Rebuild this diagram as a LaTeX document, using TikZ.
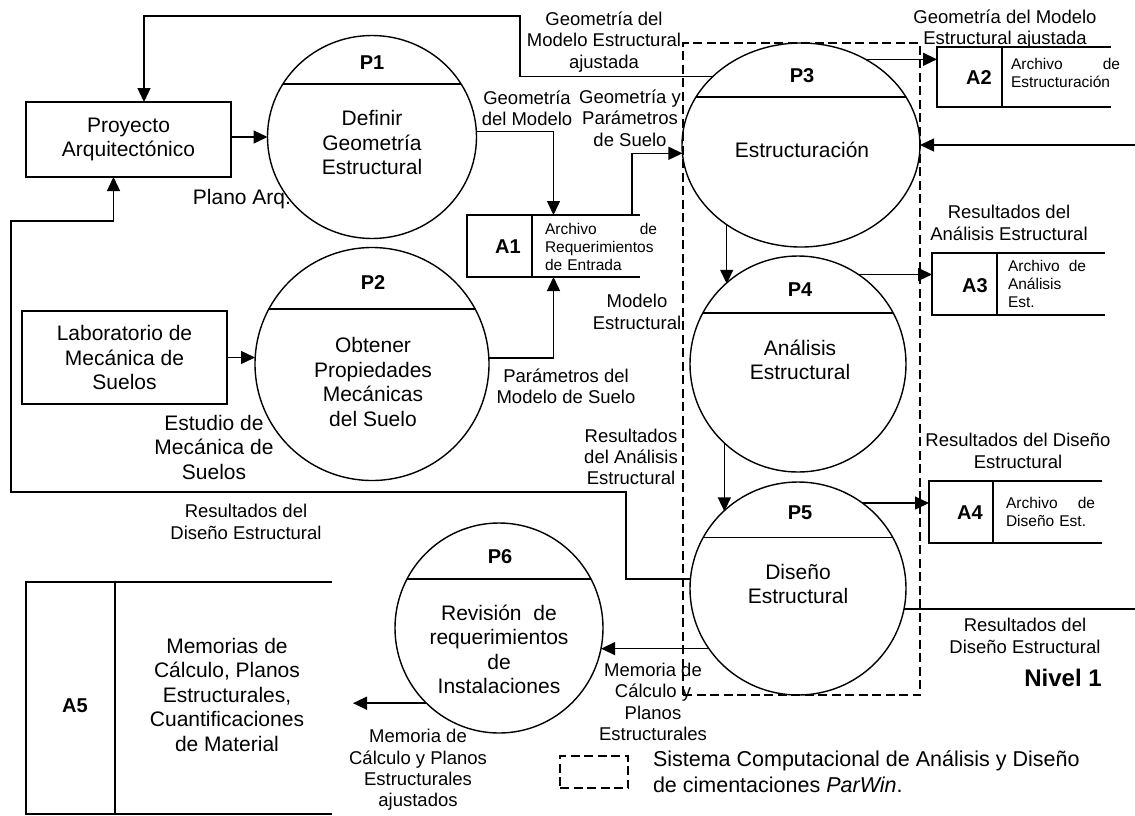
\documentclass[tikz,border=0pt]{standalone}
\usepackage{fontspec}
\setmainfont{Liberation Sans}
\usetikzlibrary{shapes.geometric,arrows.meta}
\begin{document}
\begin{tikzpicture}[x=1pt,y=-1pt,line width=1.4pt,
  every node/.style={inner sep=0pt,outer sep=0pt},
  proc/.style={ellipse,draw,path picture={\draw ([yshift=#1]path picture bounding box.west) -- ([yshift=#1]path picture bounding box.east);}},
  ptxt/.style={align=center,font=\fontsize{21}{24.5}\selectfont},
  ttl/.style={font=\bfseries\fontsize{20}{24}\selectfont},
  lbl/.style={align=center,font=\fontsize{18.5}{21.3}\selectfont},
  stxt/.style={align=left,anchor=west,font=\fontsize{15.5}{18}\selectfont},
  ent/.style={draw,align=center,font=\fontsize{21}{24.5}\selectfont},
  arr/.style={-{Triangle[length=14pt,width=13pt]}},
  sysbox/.style={dash pattern=on 9pt off 4.5pt}]
\useasboundingbox (0,0) rectangle (1135,815);

% system boundary
\node[draw,sysbox,minimum width=237pt,minimum height=652pt] (sys) at (801.5,369) {};

% external entities
\node[ent,minimum width=205pt,minimum height=75pt] (Proy) at (128.5,139.5) {Proyecto\\Arquitectónico};
\node[ent,minimum width=205pt,minimum height=93pt] (Lab) at (124.5,357.5) {Laboratorio de\\Mecánica de\\Suelos};

% processes
\node[proc=53pt,minimum width=209pt,minimum height=203pt] (P1) at (372,137) {};
\node[proc=55pt,minimum width=234pt,minimum height=233pt] (P2) at (372,364) {};
\node[proc=48pt,minimum width=238pt,minimum height=204pt] (P3) at (801,145) {};
\node[proc=51pt,minimum width=216pt,minimum height=216pt] (P4) at (798,364) {};
\node[proc=51pt,minimum width=216pt,minimum height=213pt] (P5) at (798,588.5) {};
\node[proc=49pt,minimum width=208pt,minimum height=210pt] (P6) at (499,628) {};

\node[ttl] (t1) at (372,63) {P1};
\node[ttl] (t2) at (373,283) {P2};
\node[ttl] (t3) at (802,76) {P3};
\node[ttl] (t4) at (800,290) {P4};
\node[ttl] (t5) at (800,513) {P5};
\node[ttl] (t6) at (500,557) {P6};

\node[ptxt] (x1) at (372,142.5) {Definir\\Geometría\\Estructural};
\node[ptxt] (x2) at (373,382) {Obtener\\Propiedades\\Mecánicas\\del Suelo};
\node[ptxt] (x3) at (802,150) {Estructuración};
\node[ptxt] (x4) at (800,360) {Análisis\\Estructural};
\node[ptxt] (x5) at (798,584) {Diseño\\Estructural};
\node[ptxt] (x6) at (499,649.5) {Revisión\hspace{6pt} de\\requerimientos\\de\\Instalaciones};

% data stores
\node[minimum width=173pt,minimum height=62pt] (A1) at (553.5,246) {};
\node[minimum width=174pt,minimum height=60pt] (A2) at (1024,77) {};
\node[minimum width=173pt,minimum height=62pt] (A3) at (1018.5,284) {};
\node[minimum width=173pt,minimum height=62pt] (A4) at (1015.5,512) {};
\node[minimum width=306pt,minimum height=232pt] (A5) at (179,698) {};
\foreach \n/\d in {A1/65,A2/65,A3/65,A4/64,A5/89}{
  \draw (\n.north east) -- (\n.north west) -- (\n.south west) -- (\n.south east);
  \draw ([xshift=\d pt]\n.north west) -- ([xshift=\d pt]\n.south west);
}
\node[ttl] (a1) at (508,247) {A1};
\node[ttl] (a2) at (979,78) {A2};
\node[ttl] (a3) at (975,286) {A3};
\node[ttl] (a4) at (970,513) {A4};
\node[ttl] (a5) at (75,706) {A5};
\node[stxt,text width=112pt] (s1) at (545,246.5) {Archivo \hfill de\\Requerimientos\\de Entrada};
\node[stxt,text width=109pt] (s2) at (1011,73) {Archivo \hfill de\\Estructuración};
\node[stxt,text width=78pt] (s3) at (1008,283.5) {Archivo \hfill de\\Análisis\\Est.};
\node[stxt,text width=89pt] (s4) at (1006,512) {Archivo \hfill de\\Diseño Est.};
\node[ptxt] (s5) at (227,694.5) {Memorias de\\Cálculo, Planos\\Estructurales,\\Cuantificaciones\\de Material};

% helper coordinates
\coordinate (c1) at (626,492);
\coordinate (c2) at (11,221);
\coordinate (c3) at (520,16);
\coordinate (inR) at (1135,145);
\coordinate (outR) at (1135,609);
\coordinate (a5in) at (353,702);

% flows
\draw[arr] (Proy.east |- P1.west) -- (P1.west);
\draw[arr] (Lab.east) -- (Lab.east -| P2.west);
\draw[arr] (P1.3) -| (A1.north);
\draw[arr] (P2.3) -| (A1.south);
\draw[arr] ([xshift=-8pt]A1.north east) |- (P3.184);
\draw[arr] (P3.142) -| (c3) -| ([xshift=15.5pt]Proy.north);
\draw[arr] (P5.175) -| (c1) -| (c2) -| ([xshift=-15pt]Proy.south);
\draw[arr] (P3.53) -- (P3.53 -| A2.west);
\draw[arr] (inR) -- (P3.east);
\draw[arr] (P3.227) -- (P3.227 |- P4.132);
\draw[arr] (P4.56) -- (P4.56 -| A3.west);
\draw[arr] (P4.227) -- (P4.227 |- P5.134);
\draw[arr] (P5.53) -- (P5.53 -| A4.west);
\draw (P5.349) -- (P5.349 -| outR);
\draw[arr] (P5.214) -- (P5.214 -| P6.349);
\draw[arr] (P6.226) -- (P6.226 -| a5in);

% flow labels
\node[lbl] (l1) at (604,42) {Geometría del\\Modelo Estructural\\ajustada};
\node[lbl] (l2) at (1005,29) {Geometría del Modelo\\Estructural ajustada};
\node[lbl] (l3) at (527,108) {Geometría\\del Modelo};
\node[lbl] (l4) at (630,118) {Geometría y\\Parámetros\\de Suelo};
\node[ptxt] (l5) at (242,199) {Plano Arq.};
\node[lbl] (l6) at (566,386) {Parámetros del\\Modelo de Suelo};
\node[lbl] (l7) at (637,312) {Modelo\\Estructural};
\node[ptxt] (l8) at (214,447) {Estudio de\\Mecánica de\\Suelos};
\node[lbl] (l9) at (631,457) {Resultados\\del Análisis\\Estructural};
\node[lbl] (l10) at (246,522) {Resultados del\\Diseño Estructural};
\node[lbl] (l11) at (1009,223) {Resultados del\\Análisis Estructural};
\node[lbl] (l12) at (1018,451) {Resultados del Diseño\\Estructural};
\node[lbl] (l13) at (1025,636) {Resultados del\\Diseño Estructural};
\node[lbl] (l14) at (653,702) {Memoria de\\Cálculo y\\Planos\\Estructurales};
\node[lbl] (l15) at (418,770) {Memoria de\\Cálculo y Planos\\Estructurales\\ajustados};

% level and legend
\node[font=\bfseries\fontsize{24}{28}\selectfont] (niv) at (1063,678) {Nivel 1};
\node[draw,sysbox,minimum width=68pt,minimum height=32pt] (leg) at (594,772) {};
\node[anchor=west,align=left,font=\fontsize{21.5}{26}\selectfont] (legt) at (653,772) {Sistema Computacional de Análisis y Diseño\\de cimentaciones \textit{ParWin}.};
\end{tikzpicture}
\end{document}
